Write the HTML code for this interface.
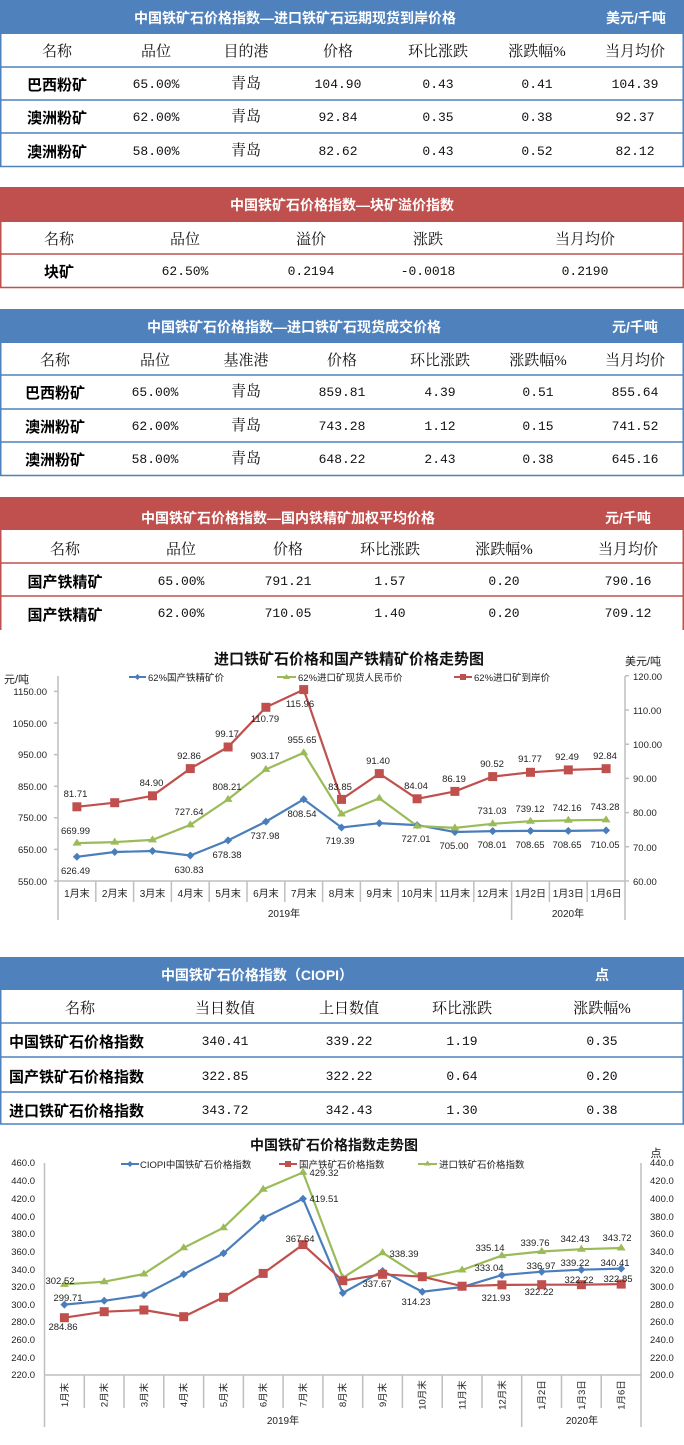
<!DOCTYPE html>
<html><head><meta charset="utf-8"><style>
html,body{margin:0;padding:0;background:#fff;}
svg{display:block}
.h{font-family:"Liberation Sans","Noto Sans CJK SC",sans-serif;font-weight:bold;font-size:14px;fill:#fff}
.c{font-family:"Liberation Serif","Noto Serif CJK SC",serif;font-size:15px;fill:#111;text-anchor:middle}
.n{font-family:"Liberation Sans","Noto Sans CJK SC",sans-serif;font-weight:bold;font-size:15px;fill:#000;text-anchor:middle}
.d{font-family:"Liberation Mono",monospace;font-size:13px;fill:#111;text-anchor:middle}
.t{font-family:"Liberation Sans","Noto Sans CJK SC",sans-serif;font-weight:bold;font-size:15px;fill:#111;text-anchor:middle}
.a{font-family:"Liberation Sans","Noto Sans CJK SC",sans-serif;font-size:9.5px;fill:#222}
.l{font-family:"Liberation Sans","Noto Sans CJK SC",sans-serif;font-size:9.5px;fill:#222;text-anchor:middle}
</style></head><body>
<svg width="684" height="1445" viewBox="0 0 684 1445" xmlns="http://www.w3.org/2000/svg">
<!-- Table 1 -->
<rect x="0" y="0" width="684" height="34" fill="#4f81bd"/>
<text class="h" x="295" y="23" text-anchor="middle">中国铁矿石价格指数—进口铁矿石远期现货到岸价格</text>
<text class="h" x="636" y="23" text-anchor="middle">美元/千吨</text>
<g stroke="#4f81bd" stroke-width="1.5" fill="none">
<path d="M0.75 34V167M683.25 34V167M0 67H684M0 100H684M0 133H684M0 166.5H684"/>
</g>
<g class="c"><text x="57" y="56">名称</text><text x="156" y="56">品位</text><text x="246" y="56">目的港</text><text x="338" y="56">价格</text><text x="438" y="56">环比涨跌</text><text x="537" y="56">涨跌幅%</text><text x="635" y="56">当月均价</text></g>
<g class="n"><text x="57" y="90">巴西粉矿</text><text x="57" y="123">澳洲粉矿</text><text x="57" y="157">澳洲粉矿</text></g>
<g class="d">
<text x="156" y="88">65.00%</text><text x="246" y="88" class="c">青岛</text><text x="338" y="88">104.90</text><text x="438" y="88">0.43</text><text x="537" y="88">0.41</text><text x="635" y="88">104.39</text>
<text x="156" y="121">62.00%</text><text x="246" y="121" class="c">青岛</text><text x="338" y="121">92.84</text><text x="438" y="121">0.35</text><text x="537" y="121">0.38</text><text x="635" y="121">92.37</text>
<text x="156" y="155">58.00%</text><text x="246" y="155" class="c">青岛</text><text x="338" y="155">82.62</text><text x="438" y="155">0.43</text><text x="537" y="155">0.52</text><text x="635" y="155">82.12</text>
</g>
<!-- Table 2 -->
<rect x="0" y="187" width="684" height="35" fill="#c0504d"/>
<text class="h" x="342" y="210" text-anchor="middle">中国铁矿石价格指数—块矿溢价指数</text>
<g stroke="#c0504d" stroke-width="1.5" fill="none"><path d="M0.75 222V288M683.25 222V288M0 254H684M0 287.5H684"/></g>
<g class="c"><text x="59" y="244">名称</text><text x="185" y="244">品位</text><text x="311" y="244">溢价</text><text x="428" y="244">涨跌</text><text x="585" y="244">当月均价</text></g>
<text class="n" x="59" y="277">块矿</text>
<g class="d"><text x="185" y="275">62.50%</text><text x="311" y="275">0.2194</text><text x="428" y="275">-0.0018</text><text x="585" y="275">0.2190</text></g>
<!-- Table 3 -->
<rect x="0" y="309" width="684" height="34" fill="#4f81bd"/>
<text class="h" x="294" y="332" text-anchor="middle">中国铁矿石价格指数—进口铁矿石现货成交价格</text>
<text class="h" x="635" y="332" text-anchor="middle">元/千吨</text>
<g stroke="#4f81bd" stroke-width="1.5" fill="none"><path d="M0.75 343V476M683.25 343V476M0 375H684M0 409H684M0 442H684M0 475.5H684"/></g>
<g class="c"><text x="55" y="365">名称</text><text x="155" y="365">品位</text><text x="246" y="365">基准港</text><text x="342" y="365">价格</text><text x="440" y="365">环比涨跌</text><text x="538" y="365">涨跌幅%</text><text x="635" y="365">当月均价</text></g>
<g class="n"><text x="55" y="398">巴西粉矿</text><text x="55" y="432">澳洲粉矿</text><text x="55" y="465">澳洲粉矿</text></g>
<g class="d">
<text x="155" y="396">65.00%</text><text x="246" y="396" class="c">青岛</text><text x="342" y="396">859.81</text><text x="440" y="396">4.39</text><text x="538" y="396">0.51</text><text x="635" y="396">855.64</text>
<text x="155" y="430">62.00%</text><text x="246" y="430" class="c">青岛</text><text x="342" y="430">743.28</text><text x="440" y="430">1.12</text><text x="538" y="430">0.15</text><text x="635" y="430">741.52</text>
<text x="155" y="463">58.00%</text><text x="246" y="463" class="c">青岛</text><text x="342" y="463">648.22</text><text x="440" y="463">2.43</text><text x="538" y="463">0.38</text><text x="635" y="463">645.16</text>
</g>
<!-- Table 4 -->
<rect x="0" y="497" width="684" height="33" fill="#c0504d"/>
<text class="h" x="288" y="523" text-anchor="middle">中国铁矿石价格指数—国内铁精矿加权平均价格</text>
<text class="h" x="628" y="523" text-anchor="middle">元/千吨</text>
<g stroke="#c0504d" stroke-width="1.5" fill="none"><path d="M0.75 530V630M683.25 530V630M0 563H684M0 596H684"/></g>
<g class="c"><text x="65" y="554">名称</text><text x="181" y="554">品位</text><text x="288" y="554">价格</text><text x="390" y="554">环比涨跌</text><text x="504" y="554">涨跌幅%</text><text x="628" y="554">当月均价</text></g>
<g class="n"><text x="65" y="587">国产铁精矿</text><text x="65" y="620">国产铁精矿</text></g>
<g class="d">
<text x="181" y="585">65.00%</text><text x="288" y="585">791.21</text><text x="390" y="585">1.57</text><text x="504" y="585">0.20</text><text x="628" y="585">790.16</text>
<text x="181" y="617">62.00%</text><text x="288" y="617">710.05</text><text x="390" y="617">1.40</text><text x="504" y="617">0.20</text><text x="628" y="617">709.12</text>
</g>
<!-- Chart 1 -->
<text class="t" x="349" y="664">进口铁矿石价格和国产铁精矿价格走势图</text>
<text class="a" x="4" y="683" style="font-size:11px">元/吨</text>
<text class="a" x="643" y="665" text-anchor="middle" style="font-size:11px">美元/吨</text>
<g stroke="#bfbfbf" stroke-width="1.5" fill="none">
<path d="M58 676V920M625 676V920M58 881H625"/>
<path d="M95.8 881V902M133.6 881V902M171.4 881V902M209.2 881V902M247 881V902M284.8 881V902M322.6 881V902M360.4 881V902M398.2 881V902M436 881V902M473.8 881V902M549.4 881V902M587.2 881V902M511.6 881V920"/>
<path d="M54 881H58M54 849.4H58M54 817.8H58M54 786.2H58M54 754.6H58M54 723H58M54 691.4H58M625 881H629M625 846.8H629M625 812.6H629M625 778.4H629M625 744.2H629M625 710H629M625 675.8H629"/>
</g>
<g class="a" text-anchor="end"><text x="47" y="885">550.00</text><text x="47" y="853">650.00</text><text x="47" y="821">750.00</text><text x="47" y="790">850.00</text><text x="47" y="758">950.00</text><text x="47" y="727">1050.00</text><text x="47" y="695">1150.00</text></g>
<g class="a"><text x="633" y="885">60.00</text><text x="633" y="851">70.00</text><text x="633" y="816">80.00</text><text x="633" y="782">90.00</text><text x="633" y="748">100.00</text><text x="633" y="714">110.00</text><text x="633" y="680">120.00</text></g>
<g class="l" style="font-size:10px"><text x="76.9" y="897">1月末</text><text x="114.7" y="897">2月末</text><text x="152.5" y="897">3月末</text><text x="190.3" y="897">4月末</text><text x="228.1" y="897">5月末</text><text x="265.9" y="897">6月末</text><text x="303.7" y="897">7月末</text><text x="341.5" y="897">8月末</text><text x="379.3" y="897">9月末</text><text x="417.1" y="897">10月末</text><text x="454.9" y="897">11月末</text><text x="492.7" y="897">12月末</text><text x="530.5" y="897">1月2日</text><text x="568.3" y="897">1月3日</text><text x="606.1" y="897">1月6日</text>
<text x="284" y="917">2019年</text><text x="568" y="917">2020年</text></g>
<!-- legend -->
<g stroke-width="2"><line x1="129" y1="677" x2="146" y2="677" stroke="#4a7ebb"/><line x1="277" y1="677" x2="296" y2="677" stroke="#9bbb59"/><line x1="454" y1="677" x2="472" y2="677" stroke="#c0504d"/></g>
<path d="M137.5 674l3 3-3 3-3-3z" fill="#4a7ebb"/><path d="M286.5 674l3.5 5h-7z" fill="#9bbb59"/><rect x="460" y="674" width="6" height="6" fill="#c0504d"/>
<g class="a"><text x="148" y="681">62%国产铁精矿价</text><text x="298" y="681">62%进口矿现货人民币价</text><text x="474" y="681">62%进口矿到岸价</text></g>
<!-- series -->
<polyline fill="none" stroke="#4a7ebb" stroke-width="2.2" points="76.9,856.8 114.7,852 152.5,851 190.3,855.5 228.1,840.4 265.9,821.6 303.7,799.3 341.5,827.5 379.3,823.2 417.1,825.1 454.9,832 492.7,831.1 530.5,830.9 568.3,830.9 606.1,830.4"/>
<polyline fill="none" stroke="#9bbb59" stroke-width="2.2" points="76.9,843.1 114.7,842.1 152.5,839.9 190.3,824.9 228.1,799.4 265.9,769.4 303.7,752.8 341.5,814 379.3,798.2 417.1,826 454.9,827.9 492.7,823.8 530.5,821.2 568.3,820.3 606.1,819.9"/>
<polyline fill="none" stroke="#c0504d" stroke-width="2.2" points="76.9,806.8 114.7,802.7 152.5,795.8 190.3,768.6 228.1,747 265.9,707.3 303.7,689.6 341.5,799.4 379.3,773.6 417.1,798.8 454.9,791.4 492.7,776.6 530.5,772.3 568.3,769.9 606.1,768.7"/>
<g fill="#4a7ebb"><path d="M76.9 852.8l4 4-4 4-4-4zM114.7 848l4 4-4 4-4-4zM152.5 847l4 4-4 4-4-4zM190.3 851.5l4 4-4 4-4-4zM228.1 836.4l4 4-4 4-4-4zM265.9 817.6l4 4-4 4-4-4zM303.7 795.3l4 4-4 4-4-4zM341.5 823.5l4 4-4 4-4-4zM379.3 819.2l4 4-4 4-4-4zM417.1 821.1l4 4-4 4-4-4zM454.9 828l4 4-4 4-4-4zM492.7 827.1l4 4-4 4-4-4zM530.5 826.9l4 4-4 4-4-4zM568.3 826.9l4 4-4 4-4-4zM606.1 826.4l4 4-4 4-4-4z"/></g>
<g fill="#9bbb59"><path d="M76.9 838.6l4.5 7h-9zM114.7 837.6l4.5 7h-9zM152.5 835.4l4.5 7h-9zM190.3 820.4l4.5 7h-9zM228.1 794.9l4.5 7h-9zM265.9 764.9l4.5 7h-9zM303.7 748.3l4.5 7h-9zM341.5 809.5l4.5 7h-9zM379.3 793.7l4.5 7h-9zM417.1 821.5l4.5 7h-9zM454.9 823.4l4.5 7h-9zM492.7 819.3l4.5 7h-9zM530.5 816.7l4.5 7h-9zM568.3 815.8l4.5 7h-9zM606.1 815.4l4.5 7h-9z"/></g>
<g fill="#c0504d"><rect x="72.4" y="802.3" width="9" height="9"/><rect x="110.2" y="798.2" width="9" height="9"/><rect x="148" y="791.3" width="9" height="9"/><rect x="185.8" y="764.1" width="9" height="9"/><rect x="223.6" y="742.5" width="9" height="9"/><rect x="261.4" y="702.8" width="9" height="9"/><rect x="299.2" y="685.1" width="9" height="9"/><rect x="337" y="794.9" width="9" height="9"/><rect x="374.8" y="769.1" width="9" height="9"/><rect x="412.6" y="794.3" width="9" height="9"/><rect x="450.4" y="786.9" width="9" height="9"/><rect x="488.2" y="772.1" width="9" height="9"/><rect x="526" y="767.8" width="9" height="9"/><rect x="563.8" y="765.4" width="9" height="9"/><rect x="601.6" y="764.2" width="9" height="9"/></g>
<g class="l">
<text x="75.5" y="797">81.71</text><text x="151.5" y="786">84.90</text><text x="189" y="759">92.86</text><text x="227" y="737">99.17</text><text x="265" y="722">110.79</text><text x="300" y="707">115.96</text><text x="340" y="790">83.85</text><text x="378" y="764">91.40</text><text x="416" y="789">84.04</text><text x="454" y="782">86.19</text><text x="492" y="767">90.52</text><text x="530" y="762">91.77</text><text x="567" y="760">92.49</text><text x="605" y="759">92.84</text>
<text x="75.5" y="834">669.99</text><text x="189" y="815">727.64</text><text x="227" y="790">808.21</text><text x="265" y="759">903.17</text><text x="302" y="743">955.65</text><text x="492" y="814">731.03</text><text x="530" y="812">739.12</text><text x="567" y="811">742.16</text><text x="605" y="810">743.28</text>
<text x="75.5" y="874">626.49</text><text x="189" y="873">630.83</text><text x="227" y="858">678.38</text><text x="265" y="839">737.98</text><text x="302" y="817">808.54</text><text x="340" y="844">719.39</text><text x="416" y="842">727.01</text><text x="454" y="849">705.00</text><text x="492" y="848">708.01</text><text x="530" y="848">708.65</text><text x="567" y="848">708.65</text><text x="605" y="848">710.05</text>
</g>
<!-- Table 5 -->
<rect x="0" y="957" width="684" height="33" fill="#4f81bd"/>
<text class="h" x="257" y="980" text-anchor="middle">中国铁矿石价格指数（CIOPI）</text>
<text class="h" x="602" y="980" text-anchor="middle">点</text>
<g stroke="#4f81bd" stroke-width="1.5" fill="none"><path d="M0.75 990V1124M683.25 990V1124M0 1023H684M0 1057H684M0 1092H684M0 1124H684"/></g>
<g class="c"><text x="80" y="1013">名称</text><text x="225" y="1013">当日数值</text><text x="349" y="1013">上日数值</text><text x="462" y="1013">环比涨跌</text><text x="602" y="1013">涨跌幅%</text></g>
<g class="n" text-anchor="start" style="text-anchor:start"><text x="9" y="1047">中国铁矿石价格指数</text><text x="9" y="1082">国产铁矿石价格指数</text><text x="9" y="1116">进口铁矿石价格指数</text></g>
<g class="d">
<text x="225" y="1045">340.41</text><text x="349" y="1045">339.22</text><text x="462" y="1045">1.19</text><text x="602" y="1045">0.35</text>
<text x="225" y="1080">322.85</text><text x="349" y="1080">322.22</text><text x="462" y="1080">0.64</text><text x="602" y="1080">0.20</text>
<text x="225" y="1114">343.72</text><text x="349" y="1114">342.43</text><text x="462" y="1114">1.30</text><text x="602" y="1114">0.38</text>
</g>
<!-- Chart 2 -->
<text class="t" x="334" y="1150" style="font-size:14px">中国铁矿石价格指数走势图</text>
<text class="a" x="656" y="1157" text-anchor="middle" style="font-size:11px">点</text>
<g stroke="#bfbfbf" stroke-width="1.5" fill="none">
<path d="M44.5 1163V1427M641 1163V1427M44.5 1375H641"/>
<path d="M84.3 1375V1408M124 1375V1408M163.8 1375V1408M203.6 1375V1408M243.4 1375V1408M283.1 1375V1408M322.9 1375V1408M362.7 1375V1408M402.4 1375V1408M442.2 1375V1408M482 1375V1408M561.5 1375V1408M601.2 1375V1408M521.7 1375V1427"/>
</g>
<g class="a" text-anchor="end"><text x="35" y="1378">220.0</text><text x="35" y="1361">240.0</text><text x="35" y="1343">260.0</text><text x="35" y="1325">280.0</text><text x="35" y="1308">300.0</text><text x="35" y="1290">320.0</text><text x="35" y="1273">340.0</text><text x="35" y="1255">360.0</text><text x="35" y="1237">380.0</text><text x="35" y="1220">400.0</text><text x="35" y="1202">420.0</text><text x="35" y="1184">440.0</text><text x="35" y="1166">460.0</text></g>
<g class="a"><text x="650" y="1378">200.0</text><text x="650" y="1361">220.0</text><text x="650" y="1343">240.0</text><text x="650" y="1325">260.0</text><text x="650" y="1308">280.0</text><text x="650" y="1290">300.0</text><text x="650" y="1273">320.0</text><text x="650" y="1255">340.0</text><text x="650" y="1237">360.0</text><text x="650" y="1220">380.0</text><text x="650" y="1202">400.0</text><text x="650" y="1184">420.0</text><text x="650" y="1166">440.0</text></g>
<g class="l">
<text transform="translate(67.8 1395) rotate(-90)">1月末</text><text transform="translate(107.6 1395) rotate(-90)">2月末</text><text transform="translate(147.3 1395) rotate(-90)">3月末</text><text transform="translate(187.1 1395) rotate(-90)">4月末</text><text transform="translate(226.9 1395) rotate(-90)">5月末</text><text transform="translate(266.6 1395) rotate(-90)">6月末</text><text transform="translate(306.4 1395) rotate(-90)">7月末</text><text transform="translate(346.2 1395) rotate(-90)">8月末</text><text transform="translate(386 1395) rotate(-90)">9月末</text><text transform="translate(425.7 1395) rotate(-90)">10月末</text><text transform="translate(465.5 1395) rotate(-90)">11月末</text><text transform="translate(505.3 1395) rotate(-90)">12月末</text><text transform="translate(545.1 1395) rotate(-90)">1月2日</text><text transform="translate(584.8 1395) rotate(-90)">1月3日</text><text transform="translate(624.6 1395) rotate(-90)">1月6日</text>
<text x="283" y="1424" style="font-size:10px">2019年</text><text x="582" y="1424" style="font-size:10px">2020年</text></g>
<g stroke-width="2"><line x1="121" y1="1164" x2="139" y2="1164" stroke="#4a7ebb"/><line x1="279" y1="1164" x2="297" y2="1164" stroke="#c0504d"/><line x1="418" y1="1164" x2="437" y2="1164" stroke="#9bbb59"/></g>
<path d="M130 1161l3 3-3 3-3-3z" fill="#4a7ebb"/><rect x="285" y="1161" width="6" height="6" fill="#c0504d"/><path d="M427.5 1160.5l3.5 5h-7z" fill="#9bbb59"/>
<g class="a"><text x="140" y="1168">CIOPI中国铁矿石价格指数</text><text x="299" y="1168">国产铁矿石价格指数</text><text x="439" y="1168">进口铁矿石价格指数</text></g>
<polyline fill="none" stroke="#9bbb59" stroke-width="2.2" points="64.4,1284.4 104.2,1281.7 143.9,1274 183.7,1247.8 223.5,1227.7 263.2,1189.3 303,1172.4 342.8,1277.8 382.6,1252.7 422.3,1278.3 462.1,1270 501.9,1255.6 541.7,1251.5 581.4,1249.2 621.2,1248"/>
<polyline fill="none" stroke="#4a7ebb" stroke-width="2.2" points="64.4,1304.6 104.2,1300.8 143.9,1295 183.7,1274.3 223.5,1253.3 263.2,1218 303,1198.7 342.8,1293 382.6,1271 422.3,1291.7 462.1,1287 501.9,1275.1 541.7,1271.7 581.4,1269.7 621.2,1268.6"/>
<polyline fill="none" stroke="#c0504d" stroke-width="2.2" points="64.4,1317.7 104.2,1311.7 143.9,1310 183.7,1316.7 223.5,1297.3 263.2,1273.4 303,1244.6 342.8,1280.7 382.6,1274.3 422.3,1276.7 462.1,1286.2 501.9,1284.9 541.7,1284.7 581.4,1284.7 621.2,1284.1"/>
<g fill="#9bbb59"><path d="M64.4 1279.9l4.5 7h-9zM104.2 1277.2l4.5 7h-9zM143.9 1269.5l4.5 7h-9zM183.7 1243.3l4.5 7h-9zM223.5 1223.2l4.5 7h-9zM263.2 1184.8l4.5 7h-9zM303 1167.9l4.5 7h-9zM342.8 1273.3l4.5 7h-9zM382.6 1248.2l4.5 7h-9zM422.3 1273.8l4.5 7h-9zM462.1 1265.5l4.5 7h-9zM501.9 1251.1l4.5 7h-9zM541.7 1247l4.5 7h-9zM581.4 1244.7l4.5 7h-9zM621.2 1243.5l4.5 7h-9z"/></g>
<g fill="#4a7ebb"><path d="M64.4 1300.6l4 4-4 4-4-4zM104.2 1296.8l4 4-4 4-4-4zM143.9 1291l4 4-4 4-4-4zM183.7 1270.3l4 4-4 4-4-4zM223.5 1249.3l4 4-4 4-4-4zM263.2 1214l4 4-4 4-4-4zM303 1194.7l4 4-4 4-4-4zM342.8 1289l4 4-4 4-4-4zM382.6 1267l4 4-4 4-4-4zM422.3 1287.7l4 4-4 4-4-4zM462.1 1283l4 4-4 4-4-4zM501.9 1271.1l4 4-4 4-4-4zM541.7 1267.7l4 4-4 4-4-4zM581.4 1265.7l4 4-4 4-4-4zM621.2 1264.6l4 4-4 4-4-4z"/></g>
<g fill="#c0504d"><rect x="59.9" y="1313.2" width="9" height="9"/><rect x="99.7" y="1307.2" width="9" height="9"/><rect x="139.4" y="1305.5" width="9" height="9"/><rect x="179.2" y="1312.2" width="9" height="9"/><rect x="219" y="1292.8" width="9" height="9"/><rect x="258.7" y="1268.9" width="9" height="9"/><rect x="298.5" y="1240.1" width="9" height="9"/><rect x="338.3" y="1276.2" width="9" height="9"/><rect x="378.1" y="1269.8" width="9" height="9"/><rect x="417.8" y="1272.2" width="9" height="9"/><rect x="457.6" y="1281.7" width="9" height="9"/><rect x="497.4" y="1280.4" width="9" height="9"/><rect x="537.2" y="1280.2" width="9" height="9"/><rect x="576.9" y="1280.2" width="9" height="9"/><rect x="616.7" y="1279.6" width="9" height="9"/></g>
<g class="l">
<text x="60" y="1284">302.52</text><text x="68" y="1301">299.71</text><text x="63" y="1330">284.86</text><text x="324" y="1176">429.32</text><text x="324" y="1202">419.51</text><text x="300" y="1242">367.64</text><text x="404" y="1257">338.39</text><text x="377" y="1287">337.67</text><text x="416" y="1305">314.23</text><text x="490" y="1251">335.14</text><text x="489" y="1271">333.04</text><text x="496" y="1301">321.93</text><text x="535" y="1246">339.76</text><text x="541" y="1269">336.97</text><text x="539" y="1295">322.22</text><text x="575" y="1242">342.43</text><text x="575" y="1266">339.22</text><text x="579" y="1283">322.22</text><text x="617" y="1241">343.72</text><text x="615" y="1266">340.41</text><text x="618" y="1282">322.85</text>
</g>
</svg>
</body></html>
